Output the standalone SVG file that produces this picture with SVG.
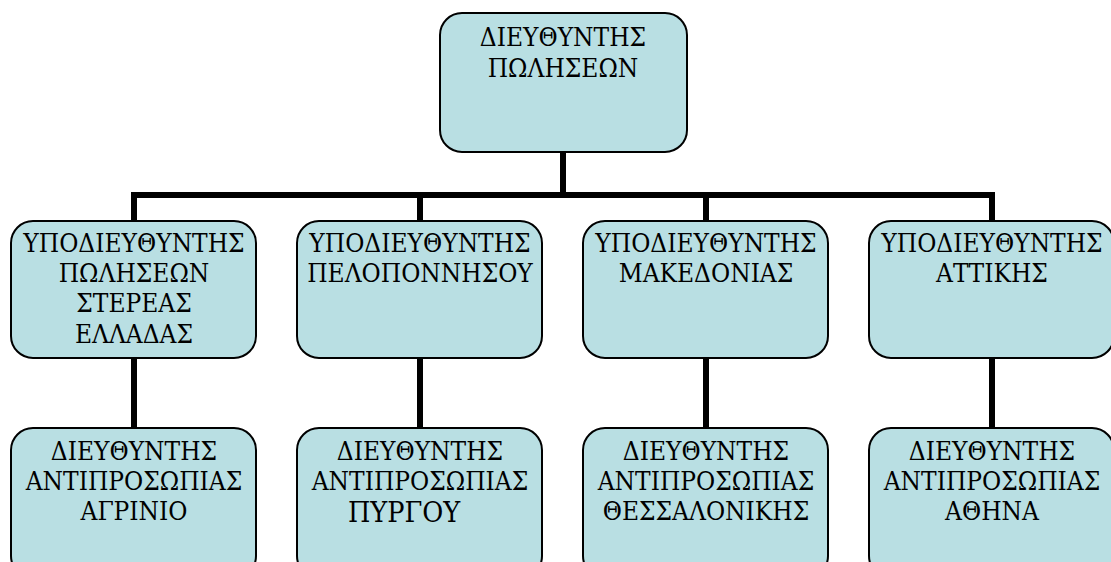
<svg xmlns="http://www.w3.org/2000/svg" width="1111" height="562" viewBox="0 0 1111 562">
<style>
.box{fill:#B9DFE3;stroke:#000;stroke-width:2}
.t{font-family:"DejaVu Serif Condensed","DejaVu Serif",serif;font-size:26px;fill:#000;text-anchor:middle}
.ln{stroke:#000;stroke-width:6;fill:none}
</style>
<rect width="1111" height="562" fill="#fff"/>
<g id="connectors">
<path class="ln" d="M563 152V195M131 195H995M134 195V221M420 195V221M706 195V221M992 195V221"/>
<path class="ln" d="M134 358V428M420 358V428M706 358V428M992 358V428"/>
</g>
<g id="n0"><rect class="box" x="440" y="13" width="247" height="139" rx="22"/>
<text class="t" x="563" y="46">ΔΙΕΥΘΥΝΤΗΣ</text><text class="t" x="563" y="77">ΠΩΛΗΣΕΩΝ</text></g>
<g id="n1"><rect class="box" x="11" y="221" width="245" height="137" rx="22"/>
<text class="t" x="134" y="252">ΥΠΟΔΙΕΥΘΥΝΤΗΣ</text><text class="t" x="134" y="282">ΠΩΛΗΣΕΩΝ</text><text class="t" x="134" y="312">ΣΤΕΡΕΑΣ</text><text class="t" x="134" y="343">ΕΛΛΑΔΑΣ</text></g>
<g id="n2"><rect class="box" x="297" y="221" width="245" height="137" rx="22"/>
<text class="t" x="420" y="252">ΥΠΟΔΙΕΥΘΥΝΤΗΣ</text><text class="t" x="420" y="282">ΠΕΛΟΠΟΝΝΗΣΟΥ</text></g>
<g id="n3"><rect class="box" x="583" y="221" width="245" height="137" rx="22"/>
<text class="t" x="706" y="252">ΥΠΟΔΙΕΥΘΥΝΤΗΣ</text><text class="t" x="706" y="282">ΜΑΚΕΔΟΝΙΑΣ</text></g>
<g id="n4"><rect class="box" x="869" y="221" width="245" height="137" rx="22"/>
<text class="t" x="992" y="252">ΥΠΟΔΙΕΥΘΥΝΤΗΣ</text><text class="t" x="992" y="282">ΑΤΤΙΚΗΣ</text></g>
<g id="n5"><rect class="box" x="11" y="428" width="245" height="150" rx="22"/>
<text class="t" x="134" y="460">ΔΙΕΥΘΥΝΤΗΣ</text><text class="t" x="134" y="490">ΑΝΤΙΠΡΟΣΩΠΙΑΣ</text><text class="t" x="134" y="520">ΑΓΡΙΝΙΟ</text></g>
<g id="n6"><rect class="box" x="297" y="428" width="245" height="150" rx="22"/>
<text class="t" x="420" y="460">ΔΙΕΥΘΥΝΤΗΣ</text><text class="t" x="420" y="490">ΑΝΤΙΠΡΟΣΩΠΙΑΣ</text><text class="t" x="348" y="522" style="text-anchor:start;font-size:28.5px">ΠΥΡΓΟΥ</text></g>
<g id="n7"><rect class="box" x="583" y="428" width="245" height="150" rx="22"/>
<text class="t" x="706" y="460">ΔΙΕΥΘΥΝΤΗΣ</text><text class="t" x="706" y="490">ΑΝΤΙΠΡΟΣΩΠΙΑΣ</text><text class="t" x="706" y="520">ΘΕΣΣΑΛΟΝΙΚΗΣ</text></g>
<g id="n8"><rect class="box" x="869" y="428" width="245" height="150" rx="22"/>
<text class="t" x="992" y="460">ΔΙΕΥΘΥΝΤΗΣ</text><text class="t" x="992" y="490">ΑΝΤΙΠΡΟΣΩΠΙΑΣ</text><text class="t" x="992" y="520">ΑΘΗΝΑ</text></g>
</svg>
